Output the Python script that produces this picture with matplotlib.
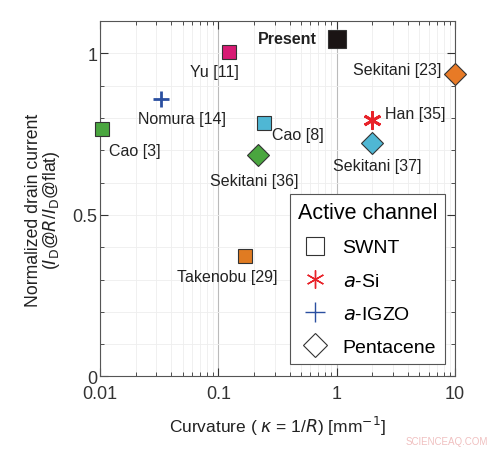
import matplotlib
matplotlib.use('Agg')
import matplotlib.pyplot as plt
from matplotlib.ticker import MultipleLocator, LogLocator, NullFormatter
from matplotlib.lines import Line2D

plt.rcParams['font.family'] = ['Liberation Sans', 'DejaVu Sans']

# data
names = ['Present', 'Yu [11]', 'Nomura [14]', 'Cao [3]', 'Cao [8]', 'Sekitani [36]',
         'Takenobu [29]', 'Han [35]', 'Sekitani [37]', 'Sekitani [23]']
curv = [1.0, 0.123, 0.033, 0.0104, 0.243, 0.217, 0.168, 1.99, 2.0, 10.0]
current = [1.046, 1.005, 0.859, 0.766, 0.785, 0.685, 0.372, 0.794, 0.723, 0.937]
markers = ['s', 's', '+', 's', 's', 'D', 's', '*', 'D', 'D']
colors = ['#1a1414', '#d81b74', '#2a4fa0', '#4aa63f', '#4fb7d4', '#4aa63f',
          '#e07b22', '#e8232a', '#4fb7d4', '#e87a26']
sizes = [13, 9.5, 12, 9.5, 9.5, 11.5, 9.5, 13, 11.5, 11.5]
# label offsets in points, alignment
label_pos = [(-14, 0, 'right', 'center'), (7, -9, 'right', 'top'),
             (15, -9, 'center', 'top'), (5, -10, 'left', 'top'),
             (6, -3, 'left', 'top'), (-3, -13, 'center', 'top'),
             (-13, -9, 'center', 'top'), (9, 5, 'left', 'center'),
             (3.5, -11, 'center', 'top'), (-10, 3, 'right', 'center')]

fig = plt.figure(figsize=(5, 4.52), dpi=100)
ax = fig.add_axes([0.2, 0.165, 0.71, 0.786])

for n, x, y, m, c, s, lp in zip(names, curv, current, markers, colors, sizes, label_pos):
    if m == '+':
        ax.plot(x, y, m, color=c, ms=s, mew=2, zorder=3)
    elif m == '*':
        ax.plot(x, y, marker=(6, 2, 0), color=c, ms=s, mew=2, ls='none', zorder=3)
    else:
        ax.plot(x, y, m, mfc=c, mec='#333333', mew=0.8, ms=s, zorder=3, clip_on=False)
    dx, dy, ha, va = lp
    ax.annotate(n, (x, y), xytext=(dx, dy), textcoords='offset points',
                ha=ha, va=va, fontsize=11.5, color='#222222',
                fontweight='bold' if n == 'Present' else 'normal')

ax.set_xscale('log')
ax.set_xlim(0.01, 10)
ax.set_ylim(0, 1.1)
ax.set_xticks([0.01, 0.1, 1, 10])
ax.set_xticklabels(['0.01', '0.1', '1', '10'])
ax.xaxis.set_minor_locator(LogLocator(base=10, subs=range(2, 10)))
ax.xaxis.set_minor_formatter(NullFormatter())
ax.set_yticks([0, 0.5, 1])
ax.set_yticklabels(['0', '0.5', '1'])
ax.yaxis.set_minor_locator(MultipleLocator(0.1))
ax.tick_params(which='both', direction='in', top=True, right=True,
               labelsize=13, colors='#333333')
ax.tick_params(axis='x', which='major', pad=6)
ax.tick_params(axis='y', which='major', pad=2)
ax.tick_params(which='major', length=6)
ax.tick_params(which='minor', length=3)
ax.grid(which='major', axis='x', color='#bbbbbb', lw=0.8)
ax.grid(which='minor', color='#eeeeee', lw=0.6)
ax.grid(which='major', axis='y', color='#eeeeee', lw=0.6)
ax.set_axisbelow(True)
for sp in ax.spines.values():
    sp.set_color('#555555')

ax.set_xlabel(r'Curvature ( $\kappa$ = 1/$R$) [mm$^{-1}$]', fontsize=12.5,
              color='#222222', labelpad=9)
ax.set_ylabel('Normalized drain current\n' + r'($I_\mathrm{D}$@$R$/$I_\mathrm{D}$@flat)',
              fontsize=12.7, color='#222222', linespacing=1.0, labelpad=7)
ax.yaxis.label.set_y(0.47)

handles = [
    Line2D([], [], marker='s', ls='none', mfc='white', mec='#333333', ms=13, mew=0.8),
    Line2D([], [], marker=(6, 2, 0), ls='none', color='#e8232a', ms=13, mew=1),
    Line2D([], [], marker='+', ls='none', color='#2a4fa0', ms=15, mew=1),
    Line2D([], [], marker='D', ls='none', mfc='white', mec='#333333', ms=12.5, mew=0.8),
]
leg = ax.legend(handles, ['SWNT', r'$a$-Si', r'$a$-IGZO', 'Pentacene'],
                title='Active channel', loc='lower right', bbox_to_anchor=(0.972, 0.036),
                borderaxespad=0,
                fontsize=14, title_fontsize=15.5, fancybox=False, framealpha=1,
                edgecolor='#555555', handletextpad=0.5, labelspacing=0.8,
                borderpad=0.4, handlelength=1.8)
leg._legend_box.align = 'left'
leg.get_frame().set_linewidth(0.8)

fig.text(0.975, 0.01, 'SCIENCEAQ.COM', ha='right', va='bottom', fontsize=7,
         color='#f0c0c0')

plt.savefig('out.png', dpi=100)
